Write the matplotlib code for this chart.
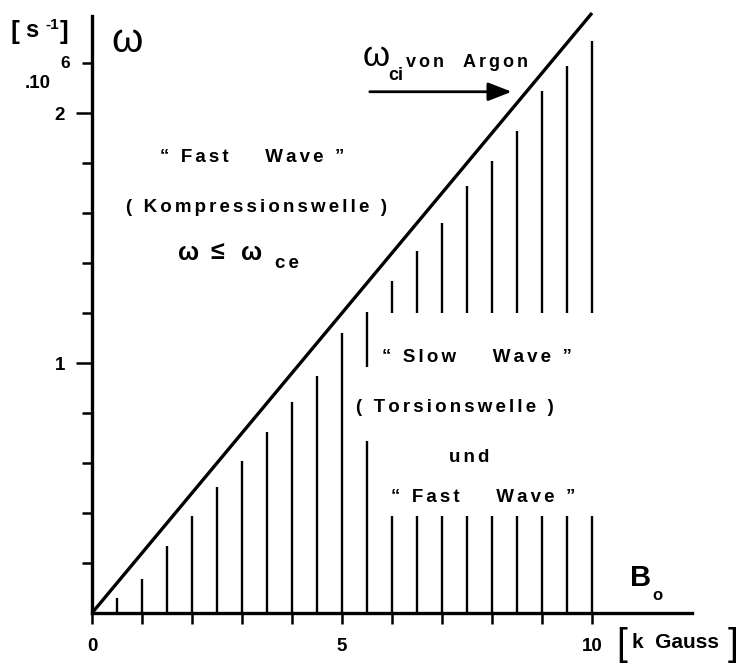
import numpy as np
import matplotlib
matplotlib.use("Agg")
import matplotlib.pyplot as plt

plt.rcParams['font.family'] = ['Liberation Sans', 'DejaVu Sans']
plt.rcParams['font.weight'] = 'bold'

# field B0 [kGauss] of the hatch lines
B = [0.5, 1.0, 1.5, 2.0, 2.5, 3.0, 3.5, 4.0, 4.5, 5.0,
     5.5, 6.0, 6.5, 7.0, 7.5, 8.0, 8.5, 9.0, 9.5, 10.0]
# lower hatch segments, from 0 up to these values [1e6 s^-1]
low_top = [0.06, 0.136, 0.27, 0.39, 0.505, 0.61, 0.725, 0.845, 0.95, 1.12,
           0.69, 0.39, 0.39, 0.39, 0.39, 0.39, 0.39, 0.39, 0.39, 0.39]
# upper hatch segments (fast wave region above the slow wave text)
B_up = [5.5, 6.0, 6.5, 7.0, 7.5, 8.0, 8.5, 9.0, 9.5, 10.0]
up_bottom = [0.985, 1.2, 1.2, 1.2, 1.2, 1.2, 1.2, 1.2, 1.2, 1.2]
up_top = [1.205, 1.33, 1.45, 1.56, 1.71, 1.81, 1.93, 2.09, 2.19, 2.29]
# omega_ci of argon vs B0
wci_B = [0.0, 10.0]
wci_w = [0.0, 2.4]

x_ticks = list(range(0, 11))
x_labels = ['0', '', '', '', '', '5', '', '', '', '', '10']
y_major = [1, 2]
y_minor = [0.2, 0.4, 0.6, 0.8, 1.2, 1.4, 1.6, 1.8, 2.2]


def spaced(s):
    # the original lettering is widely spaced
    return '\u2006'.join(s)


fig = plt.figure(figsize=(7.39, 6.65), dpi=100)
ax = fig.add_axes([0, 0, 1, 1])
ax.set_xlim(-1.84, 12.94)
ax.set_ylim(-0.208, 2.452)

for s in ['top', 'right']:
    ax.spines[s].set_visible(False)
ax.spines['left'].set_position(('data', 0))
ax.spines['left'].set_bounds(0, 2.39)
ax.spines['bottom'].set_position(('data', 0))
ax.spines['bottom'].set_bounds(0, 12)
for s in ['left', 'bottom']:
    ax.spines[s].set_linewidth(2.4)

ax.set_xticks(x_ticks)
ax.set_xticklabels(x_labels)
ax.set_yticks(y_major)
ax.set_yticklabels([str(v) for v in y_major])
ax.set_yticks(y_minor, minor=True)
ax.tick_params(axis='x', direction='out', length=8, width=1.8,
               labelsize=13.5, pad=10)
ax.tick_params(axis='y', which='major', direction='out', length=11.5,
               width=1.8, labelsize=13.5, pad=8)
ax.tick_params(axis='y', which='minor', direction='out', length=7.5, width=1.8)
for lab in ax.get_xticklabels() + ax.get_yticklabels():
    lab.set_fontweight('bold')

ax.vlines(B, 0, low_top, colors='black', linewidth=1.7)
ax.vlines(B_up, up_bottom, up_top, colors='black', linewidth=1.7)
ax.plot(wci_B, wci_w, color='black', linewidth=2.4, solid_capstyle='butt')

ax.annotate('', xy=(8.45, 2.085), xytext=(5.5, 2.085),
            arrowprops=dict(arrowstyle='-|>,head_length=0.9,head_width=0.35',
                            lw=2.0, color='black', mutation_scale=16))

# region labels
kw = dict(ha='center', va='center', fontsize=13.5, fontweight='bold')
ax.text(3.2, 1.82, spaced('“ Fast    Wave ”'), **kw)
ax.text(3.28, 1.62, spaced('( Kompressionswelle )'), **kw)
ax.text(7.7, 1.024, spaced('“ Slow    Wave ”'), **kw)
ax.text(7.26, 0.824, spaced('( Torsionswelle )'), **kw)
ax.text(7.54, 0.624, spaced('und'), **kw)
ax.text(7.82, 0.464, spaced('“ Fast    Wave ”'), **kw)

# omega <= omega_ce
ax.text(1.94, 1.44, 'ω', ha='center', va='center', fontsize=18)
ax.text(2.5, 1.445, '≤', ha='center', va='center', fontsize=18)
ax.text(3.2, 1.44, 'ω', ha='center', va='center', fontsize=18)
ax.text(3.9, 1.398, spaced('ce'), ha='center', va='center', fontsize=13.5)

# omega_ci von Argon
ax.text(5.69, 2.225, 'ω', ha='center', va='center', fontsize=25,
        fontweight='normal')
ax.text(6.08, 2.152, 'ci', ha='center', va='center', fontsize=13)
ax.text(6.27, 2.185, spaced('von  Argon'), ha='left', va='baseline',
        fontsize=13)

# axis labels
ax.text(0.71, 2.29, 'ω', ha='center', va='center', fontsize=29,
        fontweight='normal')
ax.text(-1.54, 2.324, '[', ha='center', va='center', fontsize=19)
ax.text(-1.2, 2.33, 's', ha='center', va='center', fontsize=17)
ax.text(-0.8, 2.352, '-1', ha='center', va='center', fontsize=11)
ax.text(-0.56, 2.324, ']', ha='center', va='center', fontsize=19)
ax.text(-1.08, 2.116, '.10', ha='center', va='center', fontsize=13.5)
ax.text(-0.54, 2.2, '6', ha='center', va='center', fontsize=12.5)

ax.text(10.98, 0.142, 'B', ha='center', va='center', fontsize=21)
ax.text(11.3, 0.072, 'o', ha='center', va='center', fontsize=12)
ax.text(10.6, -0.128, '[', ha='center', va='center', fontsize=28,
        fontweight='normal')
ax.text(10.8, -0.118, 'k  Gauss', ha='left', va='center', fontsize=15)
ax.text(12.82, -0.128, ']', ha='center', va='center', fontsize=28,
        fontweight='normal')

fig.savefig('out.png', dpi=100)
